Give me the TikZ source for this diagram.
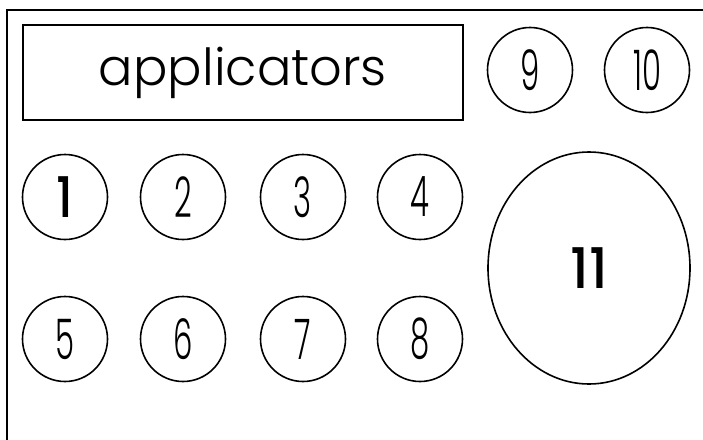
\documentclass[tikz,border=0pt]{standalone}
\usepackage{fontspec}
\setmainfont{Poppins Light}
\newfontfamily\titlefont[StylisticSet=1]{Poppins Light}
\newfontfamily\numlight{Poppins Light}
\newfontfamily\nummed{Poppins Medium}
\usetikzlibrary{shapes.geometric}
\newcommand\narrow[1]{\scalebox{0.55}[1]{#1}}
\begin{document}
\begin{tikzpicture}[x=1pt,y=-1pt,
  slot/.style={circle, draw, line width=1.6pt, minimum size=85pt, inner sep=0pt,
    font=\numlight\fontsize{56}{56}\selectfont},
  boldslot/.style={slot, font=\nummed\fontsize{56}{56}\selectfont},
  frame/.style={draw, line width=2.6pt},
  titlebox/.style={draw, line width=2pt, minimum width=440pt, minimum height=95pt, inner sep=0pt,
    font=\titlefont\fontsize{50}{50}\selectfont},
  bigslot/.style={ellipse, draw, line width=1.6pt, minimum width=202pt, minimum height=232pt, inner sep=0pt,
    font=\nummed\fontsize{56}{56}\selectfont}]
\useasboundingbox (0,0) rectangle (703,439);
\draw[frame] (7,10) rectangle (730,470);
\node[titlebox] (title) at (243,72.5) {\resizebox{288pt}{!}{applicators}};
\node[slot] (n9) at (530,70) {\narrow{9}};
\node[slot] (n10) at (647,70) {\narrow{10}};
\node[boldslot] (n1) at (65,197) {\scalebox{0.85}[1]{1}};
\node[slot] (n2) at (183,197) {\narrow{2}};
\node[slot] (n3) at (303,197) {\narrow{3}};
\node[slot] (n4) at (420,197) {\narrow{4}};
\node[slot] (n5) at (65,339) {\narrow{5}};
\node[slot] (n6) at (183,339) {\narrow{6}};
\node[slot] (n7) at (303,339) {\narrow{7}};
\node[slot] (n8) at (420,339) {\narrow{8}};
\node[bigslot] (n11) at (589,268) {\scalebox{0.95}[1]{11}};
\end{tikzpicture}
\end{document}
